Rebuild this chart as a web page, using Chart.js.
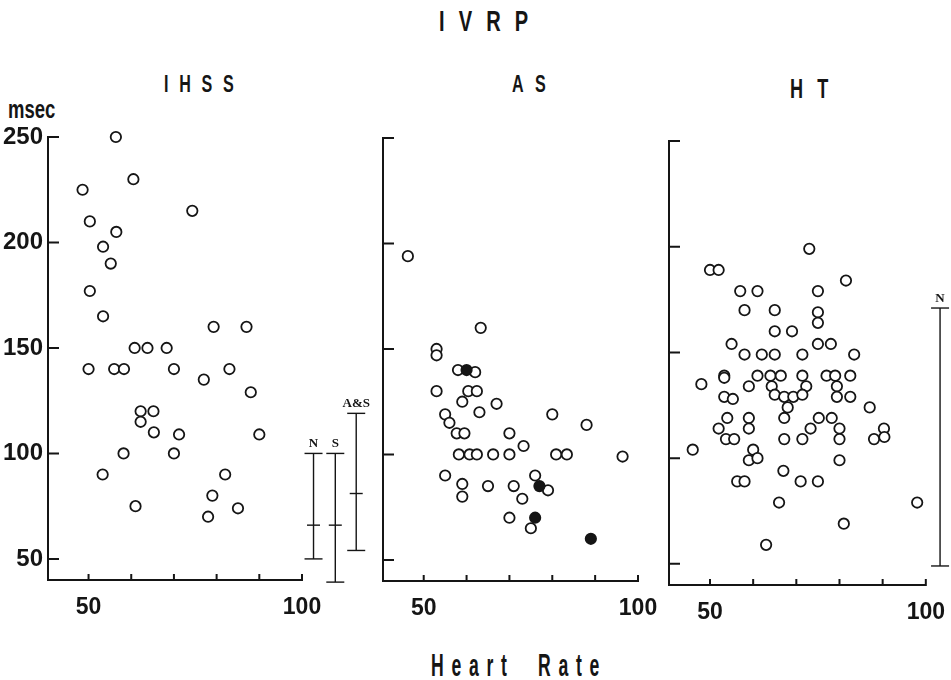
<!DOCTYPE html>
<html>
<head>
<meta charset="utf-8">
<title>IVRP</title>
<script src="https://cdn.jsdelivr.net/npm/chart.js@4.4.1/dist/chart.umd.min.js"></script>
<style>
  html, body { margin: 0; padding: 0; background: #fff; }
  #page { position: relative; width: 951px; height: 680px; overflow: hidden;
          font-family: 'Liberation Sans', Arial, sans-serif;
          font-weight: bold; color: #151515; }
  .txt { position: absolute; white-space: pre; line-height: 1; transform-origin: 0 0; }
  canvas { position: absolute; top: 100px; }
</style>
</head>
<body>
<div id="page">
  <div class="txt" style="left:439px; top:6px; font-size:30px; letter-spacing:21px; transform:scaleX(0.67);">IVRP</div>
  <div class="txt" style="left:164px; top:72px; font-size:24px; letter-spacing:16px; transform:scaleX(0.67);">IHSS</div>
  <div class="txt" style="left:512px; top:72px; font-size:24px; letter-spacing:17px; transform:scaleX(0.67);">AS</div>
  <div class="txt" style="left:790px; top:76px; font-size:27px; letter-spacing:21px; transform:scaleX(0.67);">HT</div>
  <div class="txt" style="left:8px; top:97px; font-size:25px; transform:scaleX(0.74);">msec</div>
  <div class="txt" style="left:431px; top:649px; font-size:32px; letter-spacing:14px; word-spacing:20px; transform:scaleX(0.55);">Heart Rate</div>
  <canvas id="ihss" width="380" height="530" style="left:1px"></canvas>
  <canvas id="as" width="380" height="530" style="left:336px"></canvas>
  <canvas id="ht" width="329" height="530" style="left:622px"></canvas>
</div>
<script>
// axis ticks
const xMin = 40.5, xAxisEnd = 100;
const yMin = 40, yMax = 250;
const xTickValues = [50, 60, 70, 80, 90, 100];
const xLabelValues = [50, 100];
const yTickValues = [50, 100, 150, 200, 250];

// IHSS: heart rate / IVRP (msec)
const ihssRate = [56.4, 60.5, 48.6, 74.3, 50.3, 56.5, 53.4, 55.2, 50.3, 53.4, 79.3, 87,
                  60.8, 63.8, 68.3, 50, 56, 58.3, 70, 83, 77, 88, 62.2, 65.2, 62.2, 65.3,
                  71.2, 90, 58.2, 70, 53.3, 82, 79, 61, 85, 78];
const ihssIvrp = [250, 230, 225, 215, 210, 205, 198, 190, 177, 165, 160, 160,
                  150, 150, 150, 140, 140, 140, 140, 140, 135, 129, 120, 120, 115, 110,
                  109, 109, 100, 100, 90, 90, 80, 75, 74, 70];

// AS: open circles
const asRate = [46.3, 63.3, 53, 53, 58, 62, 53, 60.4, 62.4, 59, 67, 55, 63, 80, 56, 88,
                57.7, 59.5, 70, 73.3, 58.2, 60.7, 62.4, 66.2, 70, 80.9, 83.4, 96.4,
                55, 76, 59, 65, 71, 79, 59, 73, 70, 75];
const asIvrp = [194, 160, 150, 147, 140, 139, 130, 130, 130, 125, 124, 119, 120, 119, 115, 114,
                110, 110, 110, 104, 100, 100, 100, 100, 100, 100, 100, 99,
                90, 90, 86, 85, 85, 83, 80, 79, 70, 65];
// AS: filled circles
const asFilledRate = [60, 77, 76, 89];
const asFilledIvrp = [140, 85, 70, 60];

// HT
const htRate = [73, 50, 52, 81.5, 57, 61, 75, 58, 65, 75, 75, 65, 69, 55, 75, 78,
                58, 62, 65, 71.4, 83.4,
                53.3, 53.3, 61, 64, 66.4, 71.4, 77, 79, 82.5,
                48, 59, 64.3, 72.3, 79.4,
                53.3, 55.3, 65, 67.2, 69.3, 71.4, 79.4, 82.5,
                68, 87,
                54, 59, 67.2, 75.2, 78.2,
                52, 59, 73.3, 80, 90.3,
                53.7, 55.6, 67.2, 71.4, 80, 88, 90.4,
                46, 60,
                59, 61, 80,
                67,
                56.3, 58, 71, 75,
                66, 98,
                81,
                63];
const htIvrp = [199, 189, 189, 184, 179, 179, 179, 170, 170, 169, 164, 160, 160, 154, 154, 154,
                149, 149, 149, 149, 149,
                139, 138, 139, 139, 139, 139, 139, 139, 139,
                135, 134, 134, 134, 134,
                129, 128, 130, 129, 129, 130, 129, 129,
                124, 124,
                119, 119, 119, 119, 119,
                114, 114, 114, 114, 114,
                109, 109, 109, 109, 109, 109, 110,
                104, 104,
                99, 100, 99,
                94,
                89, 89, 89, 89,
                79, 79,
                69,
                59];

// reference ranges drawn right of the axes
const ihssRefNames = ['N', 'S', 'A&S'];
const ihssRefX = [102.7, 107.8, 112.7];
const ihssRefTop = [100, 100, 119];
const ihssRefMean = [66, 66, 81];
const ihssRefBottom = [50, 39, 54];

const htRefNames = ['N'];
const htRefX = [103.3];
const htRefTop = [171];
const htRefMean = [null];
const htRefBottom = [49];

const ink = '#151515';
const fontFamily = "'Liberation Sans', Arial, sans-serif";

function pairs(xs, ys) {
    return xs.map((x, i) => ({ x: x, y: ys[i] }));
}

// x axis line stops at 100; ticks point into the plot, as in the original figure
const innerTicks = {
    id: 'innerTicks',
    afterDraw(chart) {
        const { ctx, chartArea, scales } = chart;
        const xEnd = scales.x.getPixelForValue(xAxisEnd);
        ctx.save();
        ctx.strokeStyle = ink;
        ctx.lineWidth = 2;
        ctx.beginPath();
        ctx.moveTo(chartArea.left - 1, chartArea.bottom);
        ctx.lineTo(xEnd + 1, chartArea.bottom);
        for (const t of scales.x.ticks) {
            const px = scales.x.getPixelForValue(t.value);
            ctx.moveTo(px, chartArea.bottom);
            ctx.lineTo(px, chartArea.bottom - 6);
        }
        for (const t of scales.y.ticks) {
            const py = scales.y.getPixelForValue(t.value);
            ctx.moveTo(chartArea.left - 1, py);
            ctx.lineTo(chartArea.left + 11, py);
        }
        ctx.stroke();
        ctx.restore();
    }
};

const refLabels = {
    id: 'refLabels',
    afterDatasetsDraw(chart, args, opts) {
        if (!opts.names) return;
        const { ctx, scales } = chart;
        ctx.save();
        ctx.fillStyle = ink;
        ctx.font = "bold 13px 'Liberation Serif', 'DejaVu Serif', serif";
        ctx.textAlign = 'center';
        ctx.textBaseline = 'bottom';
        opts.names.forEach((name, i) => {
            ctx.fillText(name, scales.x.getPixelForValue(opts.x[i]), scales.y.getPixelForValue(opts.top[i]) - 3);
        });
        ctx.restore();
    }
};

function makePanel(id, box, groups, refs, showYLabels) {
    const canvas = document.getElementById(id);
    const cLeft = parseFloat(canvas.style.left);
    const cTop = 100;
    const w = canvas.width, h = canvas.height;
    // plot area runs on past 100 so the reference bars share the same scale
    const perUnit = (box.right - box.left) / (xAxisEnd - xMin);
    const xMax = xAxisEnd + (box.reach - box.right) / perUnit;

    const datasets = [];
    for (const g of groups) {
        datasets.push({
            data: pairs(g.x, g.y),
            pointStyle: 'circle',
            pointRadius: 5.2,
            pointBorderWidth: 1.8,
            pointBorderColor: ink,
            pointBackgroundColor: g.filled ? ink : '#fff',
            showLine: false,
            clip: false,
            order: g.filled ? 0 : 1
        });
    }
    if (refs) {
        refs.names.forEach((name, i) => {
            datasets.push({
                type: 'line',
                data: [{ x: refs.x[i], y: refs.top[i] }, { x: refs.x[i], y: refs.bottom[i] }],
                borderColor: ink,
                borderWidth: 1.4,
                pointStyle: 'line',
                pointRadius: 9,
                pointBorderColor: ink,
                pointBorderWidth: 1.4,
                clip: false,
                order: 2
            });
            if (refs.mean[i] != null) {
                datasets.push({
                    data: [{ x: refs.x[i], y: refs.mean[i] }],
                    pointStyle: 'line',
                    pointRadius: 6.5,
                    pointBorderColor: ink,
                    pointBorderWidth: 1.4,
                    clip: false,
                    order: 2
                });
            }
        });
    }

    return new Chart(canvas, {
        type: 'scatter',
        data: { datasets: datasets },
        options: {
            responsive: false,
            animation: false,
            devicePixelRatio: 1,
            layout: {
                autoPadding: false,
                padding: { left: 0, top: box.top - cTop, right: w - (box.reach - cLeft), bottom: 0 }
            },
            plugins: {
                legend: { display: false },
                tooltip: { enabled: false },
                refLabels: refs || {}
            },
            scales: {
                x: {
                    type: 'linear',
                    min: xMin,
                    max: xMax,
                    grid: { display: false },
                    border: { display: false },
                    afterBuildTicks: s => { s.ticks = xTickValues.map(v => ({ value: v })); },
                    afterFit: s => { s.height = h - (box.bottom - cTop); },
                    ticks: {
                        color: ink,
                        padding: 6,
                        autoSkip: false,
                        maxRotation: 0,
                        font: { family: fontFamily, size: 23, weight: 'bold' },
                        callback: v => xLabelValues.includes(v) ? String(v) : ''
                    }
                },
                y: {
                    type: 'linear',
                    min: yMin,
                    max: yMax,
                    grid: { display: false, drawTicks: false },
                    border: { display: true, color: ink, width: 2 },
                    afterBuildTicks: s => { s.ticks = yTickValues.map(v => ({ value: v })); },
                    afterFit: s => { s.width = box.left - cLeft; },
                    ticks: {
                        display: showYLabels,
                        color: ink,
                        padding: 5,
                        font: { family: fontFamily, size: 24, weight: 'bold' }
                    }
                }
            }
        },
        plugins: [innerTicks, refLabels]
    });
}

makePanel('ihss', { left: 48, right: 302, top: 137, bottom: 580, reach: 377 },
    [{ x: ihssRate, y: ihssIvrp }],
    { names: ihssRefNames, x: ihssRefX, top: ihssRefTop, mean: ihssRefMean, bottom: ihssRefBottom },
    true);

makePanel('as', { left: 383, right: 638, top: 138, bottom: 581, reach: 638 },
    [{ x: asRate, y: asIvrp }, { x: asFilledRate, y: asFilledIvrp, filled: true }],
    null, false);

makePanel('ht', { left: 669, right: 929, top: 141, bottom: 585, reach: 951 },
    [{ x: htRate, y: htIvrp }],
    { names: htRefNames, x: htRefX, top: htRefTop, mean: htRefMean, bottom: htRefBottom },
    false);
</script>
</body>
</html>
